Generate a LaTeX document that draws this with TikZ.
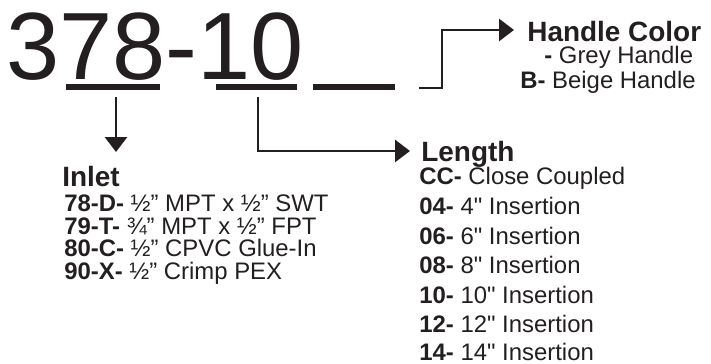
\documentclass[tikz,border=0pt]{standalone}
\usepackage{fontspec}
\setmainfont{Liberation Sans}[Ligatures=TeXOff]
\usepackage{tikz}
\usetikzlibrary{arrows.meta}
\definecolor{ink}{HTML}{231F20}

\begin{document}
\begin{tikzpicture}[x=0.02cm, y=-0.02cm, color=ink,
		txt/.style={anchor=base west, inner sep=0pt, text=ink},
		bignum/.style={txt, font=\fontsize{54.4}{54.4}\selectfont},
		head/.style={txt, font=\fontsize{15.9}{15.9}\selectfont\bfseries},
		item/.style={txt, font=\fontsize{13.6}{13.6}\selectfont},
		blank/.style={line width=3.2pt},
		conn/.style={line width=1.6pt},
		arr/.style={conn, -{Triangle[width=12.5pt,length=8.5pt]}}]
			%%%%% START %%%%%
			\useasboundingbox (0,0) rectangle (711,364);
			
			\node[bignum] (model) at (6,80) {378-10};
			
			% blanks
			\draw[blank] (66,87) -- (160,87);
			\draw[blank] (216,87) -- (297,87);
			\draw[blank] (313,87) -- (395,87);
			
			\coordinate (inStart) at (116,97);
			\coordinate (inTip) at (116,152);
			\coordinate (lenStart) at (258,97);
			\coordinate (lenTip) at (410,151);
			\coordinate (hcStart) at (419,88);
			\coordinate (hcTip) at (514,30);
			
			\draw[arr] (inStart) -- (inTip);
			\draw[arr] (lenStart) |- (lenTip);
			\draw[arr] (hcStart) -- ++(23,0) |- (hcTip);
			
			% handle color
			\node[head] (hc) at (527,42) {Handle Color};
			\node[item] (hc1) at (544,64) {\textbf{-} Grey Handle};
			\node[item] (hc2) at (520,89) {\textbf{B-} Beige Handle};
			
			% inlet
			\node[head] (inlet) at (62,187) {Inlet};
			\node[item] (in1) at (64,212) {\textbf{78-D-} ½” MPT x ½” SWT};
			\node[item] (in2) at (64,234.5) {\textbf{79-T-} ¾” MPT x ½” FPT};
			\node[item] (in3) at (64,257) {\textbf{80-C-} ½” CPVC Glue-In};
			\node[item] (in4) at (64,279.5) {\textbf{90-X-} ½” Crimp PEX};
			
			% length
			\node[head] (len) at (421,162) {Length};
			\node[item] (len1) at (419,185) {\textbf{CC-} Close Coupled};
			\node[item] (len2) at (419,215) {\textbf{04-} 4" Insertion};
			\node[item] (len3) at (419,245) {\textbf{06-} 6" Insertion};
			\node[item] (len4) at (419,274) {\textbf{08-} 8" Insertion};
			\node[item] (len5) at (419,304) {\textbf{10-} 10" Insertion};
			\node[item] (len6) at (419,333) {\textbf{12-} 12" Insertion};
			\node[item] (len7) at (419,361) {\textbf{14-} 14" Insertion};
			%%%%% END %%%%%
\end{tikzpicture}
\end{document}
